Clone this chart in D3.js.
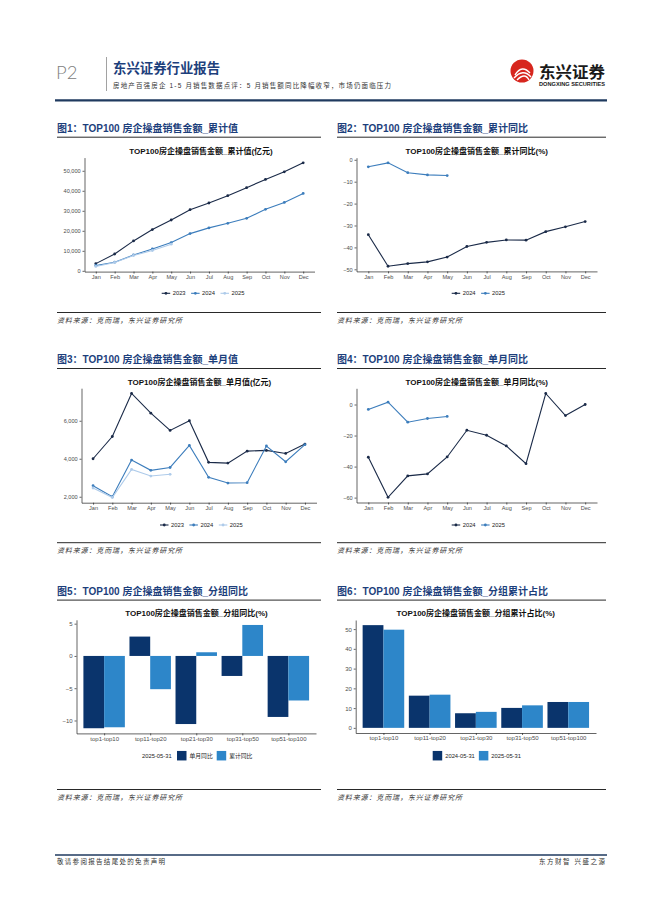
<!DOCTYPE html>
<html>
<head>
<meta charset="utf-8">
<script src="https://cdn.jsdelivr.net/npm/d3@7"></script>
<style>
  body { margin: 0; background: #fff; }
  svg { display: block; font-family: "Liberation Sans", "Noto Sans CJK SC", sans-serif; }
  .axis path, .axis line { stroke: #222; stroke-width: 0.7; }
  .axis text { fill: #4d4d4d; font-size: 5.6px; font-family: "Liberation Sans", sans-serif; }
  .bars .axis text { font-size: 6px; }
  .ctitle { font-size: 8px; font-weight: bold; text-anchor: middle; fill: #111; }
  .fig { font-size: 10px; font-weight: bold; fill: #1d3f7c; }
  .src { font-size: 7px; font-style: italic; fill: #333; }
  .leg { font-size: 5.8px; fill: #222; }
</style>
</head>
<body>
<svg id="page" width="662" height="898"></svg>
<script>
const months = ['Jan', 'Feb', 'Mar', 'Apr', 'May', 'Jun', 'Jul', 'Aug', 'Sep', 'Oct', 'Nov', 'Dec'];

// 累计值 (亿元)
const cum2023 = [3600, 8400, 14950, 20600, 25400, 30550, 33900, 37550, 41550, 45700, 49500, 54000];
const cum2024 = [2650, 4300, 7950, 10950, 14100, 18600, 21450, 23750, 26250, 30750, 34200, 38700];
const cum2025 = [2200, 4150, 7650, 10150, 13300];
const cumTicks = [0, 10000, 20000, 30000, 40000, 50000];

// 累计同比 (%)
const cumYoy2024 = [-34.2, -48.6, -47.4, -46.6, -44.4, -39.6, -37.7, -36.6, -36.7, -32.8, -30.6, -28.2];
const cumYoy2025 = [-3.2, -1.4, -5.9, -6.9, -7.2];
const cumYoyTicks = [0, -10, -20, -30, -40, -50];

// 单月值 (亿元)
const mon2023 = [4000, 5170, 7440, 6400, 5490, 6000, 3810, 3770, 4400, 4440, 4280, 4770];
const mon2024 = [2580, 2000, 3930, 3390, 3540, 4700, 3020, 2720, 2740, 4670, 3840, 4740];
const mon2025 = [2460, 1960, 3440, 3090, 3180];
const monTicks = [2000, 4000, 6000];

// 单月同比 (%)
const monYoy2024 = [-34, -59.8, -46, -44.7, -33.8, -16.6, -19.8, -26.7, -38.1, 7.1, -7.1, 0];
const monYoy2025 = [-3.2, 1.5, -11.4, -9.0, -7.7];
const monYoyTicks = [0, -20, -40, -60];

// 分组
const groups = ['top1-top10', 'top11-top20', 'top21-top30', 'top31-top50', 'top51-top100'];
const grpMonYoy = [-11.2, 3.0, -10.55, -3.1, -9.45];
const grpCumYoy = [-11.05, -5.15, 0.57, 4.8, -6.9];
const grpYoyTicks = [5, 0, -5, -10];
const share2024 = [52.0, 16.3, 7.4, 10.1, 13.1];
const share2025 = [49.7, 16.8, 8.1, 11.4, 13.1];
const shareTicks = [0, 10, 20, 30, 40, 50];

const navy = '#1a2a48';
const mid = '#3c7dbc';
const pale = '#aecbea';
const barDark = '#0a346c';
const barLight = '#2d86c9';

const svg = d3.select('#page');

// ---- page header ----
svg.append('text').attr('x', 56).attr('y', 78.5).text('P2')
  .attr('font-family', 'Lato').attr('font-weight', 300).attr('font-size', 18.5).attr('fill', '#808080');
svg.append('line').attr('x1', 106.5).attr('x2', 106.5).attr('y1', 57).attr('y2', 91)
  .attr('stroke', '#8a8a8a').attr('stroke-width', 0.8);
svg.append('text').attr('x', 113).attr('y', 72.5).text('东兴证券行业报告')
  .attr('font-family', 'Noto Sans CJK SC').attr('font-weight', 'bold').attr('font-size', 13.4)
  .attr('fill', '#1d3f7c');
svg.append('text').attr('x', 113).attr('y', 87.5)
  .text('房地产百强房企 1-5 月销售数据点评：5 月销售额同比降幅收窄，市场仍面临压力')
  .attr('font-size', 6.5).attr('fill', '#333').attr('textLength', 278).attr('lengthAdjust', 'spacing');

// logo
const logo = svg.append('g').attr('transform', 'translate(522,71)');
logo.append('circle').attr('r', 11.5).attr('fill', '#d7261e');
[[-7, 4, 0, -7, 8, 2], [-8, 7, 1, -3, 9, 6], [-5, 9, 3, 1, 7, 9]].forEach(p => {
  logo.append('path').attr('d', `M${p[0]},${p[1]} Q${p[2]},${p[3]} ${p[4]},${p[5]}`)
    .attr('fill', 'none').attr('stroke', '#fff').attr('stroke-width', 1.4);
});
svg.append('text').attr('x', 539).attr('y', 78).text('东兴证券')
  .attr('font-family', 'Noto Sans CJK SC').attr('font-weight', 'bold').attr('font-size', 16)
  .attr('fill', '#1a1a1a').attr('textLength', 66).attr('lengthAdjust', 'spacingAndGlyphs');
svg.append('text').attr('x', 539).attr('y', 85.5).text('DONGXING SECURITIES')
  .attr('font-weight', 'bold').attr('font-size', 4.6).attr('fill', '#1a1a1a')
  .attr('textLength', 66).attr('lengthAdjust', 'spacingAndGlyphs');
svg.append('line').attr('x1', 55).attr('x2', 607).attr('y1', 100.3).attr('y2', 100.3)
  .attr('stroke', '#1f3a5f').attr('stroke-width', 2.2);

// ---- footer ----
svg.append('line').attr('x1', 55).attr('x2', 607).attr('y1', 855).attr('y2', 855)
  .attr('stroke', '#1f3a5f').attr('stroke-width', 1.3);
svg.append('text').attr('x', 57).attr('y', 863.5).text('敬请参阅报告结尾处的免责声明')
  .attr('font-size', 6.5).attr('fill', '#333').attr('textLength', 108).attr('lengthAdjust', 'spacing');
svg.append('text').attr('x', 539).attr('y', 863.5).text('东方财智 兴盛之源')
  .attr('font-size', 6.5).attr('fill', '#333').attr('textLength', 66).attr('lengthAdjust', 'spacing');

// ---- figure frames ----
function frame(x1, x2, hy, sy, label) {
  svg.append('text').attr('class', 'fig').attr('x', x1).attr('y', hy).text(label);
  svg.append('line').attr('x1', x1).attr('x2', x2).attr('y1', hy + 5.5).attr('y2', hy + 5.5)
    .attr('stroke', '#111').attr('stroke-width', 0.9);
  svg.append('line').attr('x1', x1).attr('x2', x2).attr('y1', sy).attr('y2', sy)
    .attr('stroke', '#111').attr('stroke-width', 0.9);
  svg.append('text').attr('class', 'src').attr('x', x1).attr('y', sy + 10)
    .text('资料来源：克而瑞，东兴证券研究所').attr('textLength', 125).attr('lengthAdjust', 'spacing');
}
frame(57, 321, 131.7, 312.5, '图1：TOP100 房企操盘销售金额_累计值');
frame(337, 606, 131.7, 312.5, '图2：TOP100 房企操盘销售金额_累计同比');
frame(57, 321, 363, 542.7, '图3：TOP100 房企操盘销售金额_单月值');
frame(337, 606, 363, 542.7, '图4：TOP100 房企操盘销售金额_单月同比');
frame(57, 321, 594.6, 789.5, '图5：TOP100 房企操盘销售金额_分组同比');
frame(337, 606, 594.6, 789.5, '图6：TOP100 房企操盘销售金额_分组累计占比');

function expand(vals) {
  const lo = d3.min(vals), hi = d3.max(vals), pad = (hi - lo) * 0.05;
  return [lo - pad, hi + pad];
}

function lineChart(o) {
  const g = svg.append('g');
  const x = d3.scalePoint().domain(months).range(o.xr).padding(0.6);
  const y = d3.scaleLinear().domain(expand(o.series.flatMap(s => s.values))).range(o.yr);

  g.append('text').attr('class', 'ctitle').attr('x', o.cx).attr('y', o.ty).text(o.title);
  g.append('g').attr('class', 'axis').attr('transform', `translate(${o.xr[0]},0)`)
    .call(d3.axisLeft(y).tickValues(o.ticks).tickFormat(o.fmt).tickSize(2).tickPadding(1.8).tickSizeOuter(0));
  g.append('g').attr('class', 'axis').attr('transform', `translate(0,${o.yr[0]})`)
    .call(d3.axisBottom(x).tickSize(2).tickPadding(1.2).tickSizeOuter(0));

  const line = d3.line().x((d, i) => x(months[i])).y(d => y(d));
  o.series.forEach(s => {
    g.append('path').attr('d', line(s.values)).attr('fill', 'none')
      .attr('stroke', s.color).attr('stroke-width', 1.1);
    g.selectAll(null).data(s.values).join('circle')
      .attr('cx', (d, i) => x(months[i])).attr('cy', d => y(d)).attr('r', 1.4).attr('fill', s.color);
  });

  let lx = o.lx;
  o.series.forEach(s => {
    g.append('line').attr('x1', lx).attr('x2', lx + 8.5).attr('y1', o.ly).attr('y2', o.ly)
      .attr('stroke', s.color).attr('stroke-width', 1.1);
    g.append('circle').attr('cx', lx + 4.25).attr('cy', o.ly).attr('r', 1.4).attr('fill', s.color);
    const t = g.append('text').attr('class', 'leg').attr('x', lx + 11).attr('y', o.ly + 2).text(s.name);
    lx += 11 + t.node().getComputedTextLength() + 5.5;
  });
}

function barChart(o) {
  const g = svg.append('g').attr('class', 'bars');
  const x = d3.scalePoint().domain(groups).range(o.xr).padding(0.6);
  const y = d3.scaleLinear().domain(expand([0, ...o.a, ...o.b])).range(o.yr);
  const bw = x.step() * 0.45;

  g.append('text').attr('class', 'ctitle').attr('x', o.cx).attr('y', o.ty).text(o.title);
  [[o.a, barDark, -bw], [o.b, barLight, 0]].forEach(([vals, col, off]) => {
    g.selectAll(null).data(vals).join('rect')
      .attr('x', (d, i) => x(groups[i]) + off).attr('width', bw)
      .attr('y', d => y(Math.max(0, d))).attr('height', d => Math.abs(y(d) - y(0)))
      .attr('fill', col);
  });
  g.append('g').attr('class', 'axis').attr('transform', `translate(${o.xr[0]},0)`)
    .call(d3.axisLeft(y).tickValues(o.ticks).tickSize(2).tickPadding(1.8).tickSizeOuter(0));
  g.append('g').attr('class', 'axis').attr('transform', `translate(0,${o.yr[0]})`)
    .call(d3.axisBottom(x).tickSize(2).tickPadding(1.2).tickSizeOuter(0));

  if (o.legTitle) {
    g.append('text').attr('class', 'leg').attr('x', o.lx - 35).attr('y', o.ly + 2).text(o.legTitle);
  }
  let lx = o.lx;
  [[o.names[0], barDark], [o.names[1], barLight]].forEach(([n, col]) => {
    g.append('rect').attr('x', lx).attr('y', o.ly - 4.75).attr('width', 9.5).attr('height', 9.5).attr('fill', col);
    const t = g.append('text').attr('class', 'leg').attr('x', lx + 12.5).attr('y', o.ly + 2).text(n);
    lx += 12.5 + t.node().getComputedTextLength() + 4;
  });
}

const comma = d3.format(',');

lineChart({
  title: 'TOP100房企操盘销售金额_累计值(亿元)', cx: 201, ty: 153.5,
  xr: [84.5, 314.5], yr: [271.6, 157.6], ticks: cumTicks, fmt: comma,
  series: [{ name: '2023', values: cum2023, color: navy },
           { name: '2024', values: cum2024, color: mid },
           { name: '2025', values: cum2025, color: pale }],
  lx: 161.7, ly: 293.3
});

lineChart({
  title: 'TOP100房企操盘销售金额_累计同比(%)', cx: 476.7, ty: 153.5,
  xr: [356.5, 597], yr: [271.4, 157.7], ticks: cumYoyTicks, fmt: d3.format('d'),
  series: [{ name: '2024', values: cumYoy2024, color: navy },
           { name: '2025', values: cumYoy2025, color: mid }],
  lx: 451.7, ly: 293.3
});

lineChart({
  title: 'TOP100房企操盘销售金额_单月值(亿元)', cx: 199.5, ty: 384.5,
  xr: [81.5, 316.5], yr: [502.7, 388.2], ticks: monTicks, fmt: comma,
  series: [{ name: '2023', values: mon2023, color: navy },
           { name: '2024', values: mon2024, color: mid },
           { name: '2025', values: mon2025, color: pale }],
  lx: 160, ly: 525
});

lineChart({
  title: 'TOP100房企操盘销售金额_单月同比(%)', cx: 476.7, ty: 384.5,
  xr: [356.5, 597], yr: [502.5, 388.3], ticks: monYoyTicks, fmt: d3.format('d'),
  series: [{ name: '2024', values: monYoy2024, color: navy },
           { name: '2025', values: monYoy2025, color: mid }],
  lx: 451.7, ly: 525
});

barChart({
  title: 'TOP100房企操盘销售金额_分组同比(%)', cx: 196.5, ty: 615.5,
  xr: [76.5, 316], yr: [733.4, 619.8], ticks: grpYoyTicks,
  a: grpMonYoy, b: grpCumYoy, names: ['单月同比', '累计同比'],
  legTitle: '2025-05-31', lx: 177, ly: 755.7
});

barChart({
  title: 'TOP100房企操盘销售金额_分组累计占比(%)', cx: 475.7, ty: 615.5,
  xr: [355.7, 596], yr: [733, 620], ticks: shareTicks,
  a: share2024, b: share2025, names: ['2024-05-31', '2025-05-31'],
  lx: 432.7, ly: 755.7
});
</script>
</body>
</html>
